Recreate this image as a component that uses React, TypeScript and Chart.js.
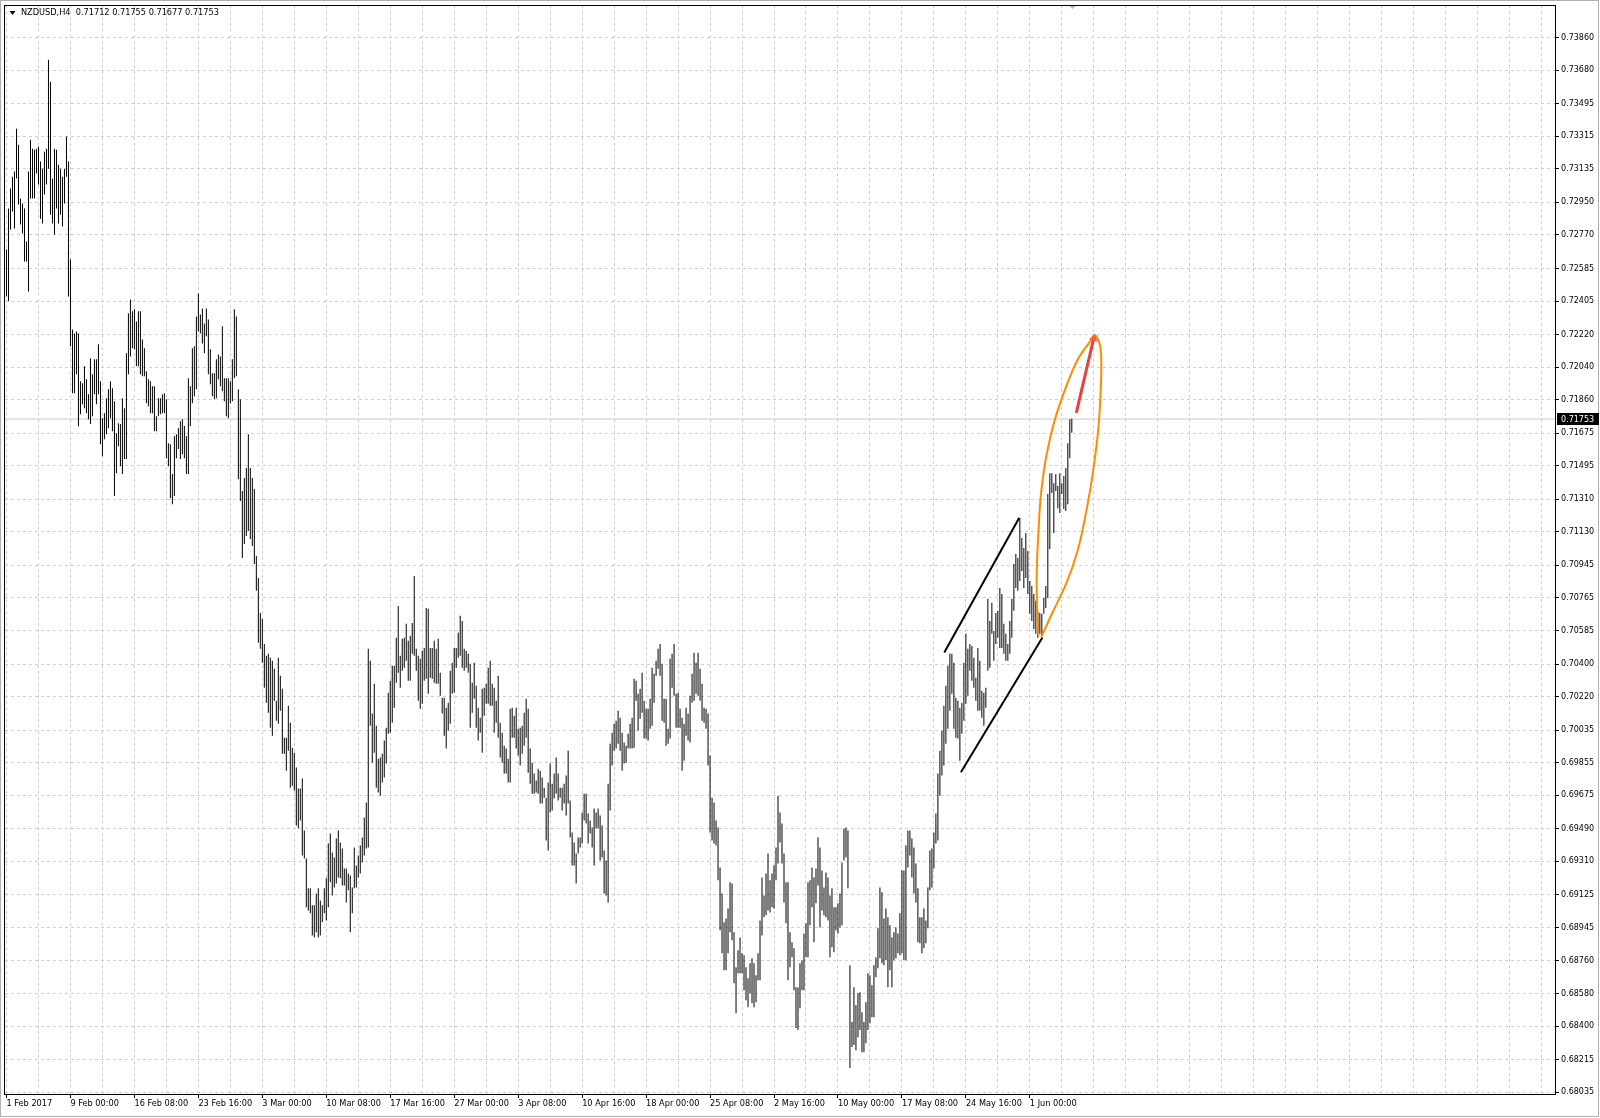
import { useEffect, useRef } from 'react';
import { Chart, registerables } from 'chart.js';

Chart.register(...registerables);

const symbolTitle = 'NZDUSD,H4';
const lastOpen = 0.71712;
const lastHigh = 0.71755;
const lastLow = 0.71677;
const lastClose = 0.71753;

const xTickLabels = [
  '1 Feb 2017', '9 Feb 00:00', '16 Feb 08:00', '23 Feb 16:00', '3 Mar 00:00', '10 Mar 08:00',
  '17 Mar 16:00', '27 Mar 00:00', '3 Apr 08:00', '10 Apr 16:00', '18 Apr 00:00', '25 Apr 08:00',
  '2 May 16:00', '10 May 00:00', '17 May 08:00', '24 May 16:00', '1 Jun 00:00',
];

const yTickValues = [
  0.73860, 0.73680, 0.73495, 0.73315, 0.73135, 0.72950, 0.72770, 0.72585, 0.72405, 0.72220,
  0.72040, 0.71860, 0.71675, 0.71495, 0.71310, 0.71130, 0.70945, 0.70765, 0.70585, 0.70400,
  0.70220, 0.70035, 0.69855, 0.69675, 0.69490, 0.69310, 0.69125, 0.68945, 0.68760, 0.68580,
  0.68400, 0.68215, 0.68035,
];

const barHighs = [
  0.72689,0.72916,0.73026,0.73092,0.73120,0.73357,0.73268,0.72971,0.72943,0.72916,
  0.72734,0.73120,0.73296,0.73246,0.73241,0.73246,0.73257,0.73175,0.73136,0.73230,
  0.73246,0.73737,0.73616,0.73081,0.73246,0.73241,0.73158,0.73136,0.73092,0.73136,
  0.73313,0.73175,0.72634,0.72248,0.72226,0.72237,0.72226,0.71962,0.71951,0.72044,
  0.71973,0.71890,0.72088,0.72000,0.72083,0.72083,0.72166,0.71962,0.71758,0.71785,
  0.71868,0.71918,0.71962,0.71923,0.71851,0.71675,0.71730,0.71725,0.71868,0.71813,
  0.72116,0.72337,0.72414,0.72348,0.72359,0.72292,0.72348,0.72348,0.72193,0.72144,
  0.72017,0.71973,0.71962,0.71934,0.71934,0.71769,0.71868,0.71868,0.71890,0.71895,
  0.71862,0.71620,0.71614,0.71449,0.71658,0.71669,0.71702,0.71741,0.71752,0.71714,
  0.71658,0.71978,0.71934,0.72144,0.72155,0.72320,0.72447,0.72331,0.72364,0.72281,
  0.72364,0.72303,0.72138,0.72006,0.72006,0.72083,0.72110,0.72099,0.72265,0.71978,
  0.71978,0.71978,0.71962,0.72083,0.72359,0.72320,0.71918,0.71862,0.71355,0.71427,
  0.71482,0.71669,0.71482,0.71427,0.71366,0.70997,0.70875,0.70682,0.70649,0.70511,
  0.70445,0.70456,0.70434,0.70418,0.70374,0.70197,0.70434,0.70335,0.70263,0.69993,
  0.69993,0.70170,0.70076,0.69938,0.69910,0.69828,0.69712,0.69712,0.69767,0.69480,
  0.69326,0.69161,0.69161,0.69067,0.69067,0.69133,0.69161,0.69094,0.69067,0.69161,
  0.69216,0.69409,0.69464,0.69359,0.69331,0.69436,0.69480,0.69414,0.69381,0.69271,
  0.69271,0.69243,0.69232,0.69166,0.69387,0.69287,0.69342,0.69398,0.69442,0.69552,
  0.69635,0.70484,0.70418,0.70126,0.70291,0.70059,0.69877,0.69883,0.69905,0.69977,
  0.70048,0.70241,0.70307,0.70390,0.70390,0.70545,0.70721,0.70445,0.70539,0.70545,
  0.70622,0.70528,0.70556,0.70627,0.70886,0.70484,0.70445,0.70429,0.70473,0.70489,
  0.70710,0.70705,0.70489,0.70489,0.70528,0.70484,0.70539,0.70352,0.70214,0.70214,
  0.70159,0.70186,0.70363,0.70407,0.70489,0.70489,0.70572,0.70666,0.70638,0.70484,
  0.70473,0.70456,0.70401,0.70296,0.70407,0.70280,0.70159,0.70103,0.70263,0.70269,
  0.70291,0.70379,0.70418,0.70291,0.70269,0.70197,0.70335,0.70076,0.70021,0.69949,
  0.69933,0.69877,0.70153,0.70159,0.70114,0.70159,0.70043,0.70048,0.70059,0.70131,
  0.70208,0.70153,0.69933,0.69855,0.69795,0.69756,0.69822,0.69811,0.69773,0.69717,
  0.69662,0.69745,0.69850,0.69739,0.69795,0.69883,0.69795,0.69717,0.69717,0.69739,
  0.69784,0.69921,0.69646,0.69469,0.69414,0.69354,0.69442,0.69442,0.69580,0.69684,
  0.69684,0.69574,0.69535,0.69497,0.69602,0.69580,0.69602,0.69563,0.69508,0.69370,
  0.69315,0.69739,0.69960,0.70021,0.70070,0.70087,0.70142,0.70103,0.70021,0.69966,
  0.69949,0.70015,0.70070,0.70103,0.70319,0.70307,0.70236,0.70263,0.70352,0.70197,
  0.70153,0.70153,0.70208,0.70379,0.70346,0.70418,0.70484,0.70511,0.70401,0.70208,
  0.70208,0.70043,0.70429,0.70456,0.70511,0.70236,0.70241,0.70153,0.70103,0.70070,
  0.70159,0.70126,0.70225,0.70346,0.70462,0.70407,0.70462,0.70374,0.70291,0.70159,
  0.70153,0.70126,0.69894,0.69662,0.69635,0.69535,0.69497,0.69276,0.69133,0.68973,
  0.68995,0.69050,0.69194,0.69188,0.68918,0.68725,0.68819,0.68890,0.68802,0.68791,
  0.68725,0.68664,0.68747,0.68775,0.68747,0.68681,0.68802,0.68984,0.69221,0.69122,
  0.69243,0.69354,0.69205,0.69243,0.69287,0.69387,0.69673,0.69580,0.69519,0.69354,
  0.69194,0.69194,0.68918,0.68863,0.68830,0.68615,0.68615,0.68747,0.68764,0.68912,
  0.68968,0.69194,0.69205,0.69276,0.69221,0.69271,0.69442,0.69387,0.69260,0.69166,
  0.69249,0.69221,0.69122,0.69161,0.69056,0.69056,0.69078,0.69133,0.69304,0.69491,
  0.69497,0.69480,0.68736,0.68422,0.68615,0.68515,0.68582,0.68587,0.68477,0.68422,
  0.68532,0.68692,0.68681,0.68626,0.68736,0.68780,0.68940,0.69166,0.69139,0.68995,
  0.69050,0.69001,0.68957,0.68890,0.68918,0.68945,0.68912,0.69023,0.69260,0.69260,
  0.69398,0.69480,0.69480,0.69436,0.69387,0.69298,0.69161,0.69001,0.69001,0.69050,
  0.68984,0.69166,0.69370,0.69381,0.69469,0.69574,0.69795,0.69921,0.70032,0.70170,
  0.70280,0.70390,0.70456,0.70456,0.70407,0.70214,0.70197,0.70159,0.70186,0.70407,
  0.70567,0.70484,0.70511,0.70500,0.70434,0.70324,0.70489,0.70418,0.70252,0.70241,
  0.70269,0.70760,0.70638,0.70738,0.70583,0.70682,0.70694,0.70820,0.70787,0.70622,
  0.70567,0.70511,0.70638,0.70760,0.70953,0.71008,0.70986,0.71206,0.71096,0.71041,
  0.71124,0.71024,0.70859,0.70831,0.70787,0.70749,0.70694,0.70682,0.70677,0.70765,
  0.70831,0.71339,0.71454,0.71454,0.71399,0.71449,0.71383,0.71454,0.71399,0.71438,
  0.71482,0.71620,0.71752,0.71755,
];

const barLows = [
  0.72430,0.72403,0.72800,0.72899,0.72805,0.73081,0.72938,0.72827,0.72778,0.72623,
  0.72623,0.72458,0.72971,0.72971,0.72971,0.73109,0.73048,0.72860,0.72833,0.72993,
  0.73048,0.73136,0.72882,0.72833,0.72772,0.72916,0.72833,0.72882,0.72816,0.72943,
  0.73092,0.72430,0.72155,0.71895,0.71895,0.72000,0.71713,0.71780,0.71835,0.71813,
  0.71785,0.71752,0.71725,0.71769,0.71890,0.71835,0.71890,0.71614,0.71548,0.71642,
  0.71669,0.71702,0.71758,0.71686,0.71328,0.71454,0.71603,0.71493,0.71449,0.71532,
  0.71532,0.72000,0.72099,0.72144,0.72138,0.72044,0.72044,0.72000,0.71989,0.71989,
  0.71840,0.71824,0.71785,0.71785,0.71686,0.71686,0.71769,0.71780,0.71785,0.71785,
  0.71537,0.71493,0.71316,0.71283,0.71328,0.71537,0.71587,0.71532,0.71559,0.71537,
  0.71449,0.71449,0.71714,0.71840,0.71879,0.71918,0.72237,0.72226,0.72171,0.72116,
  0.72210,0.72000,0.71945,0.71879,0.71862,0.71868,0.71973,0.71934,0.71906,0.71851,
  0.71769,0.71758,0.71840,0.71851,0.71978,0.71989,0.71421,0.71300,0.70986,0.71063,
  0.71107,0.71135,0.71090,0.71052,0.70953,0.70804,0.70517,0.70484,0.70407,0.70269,
  0.70186,0.70131,0.70048,0.70004,0.70197,0.70087,0.70070,0.70142,0.69905,0.69905,
  0.69811,0.69921,0.69717,0.69728,0.69701,0.69508,0.69491,0.69535,0.69342,0.69326,
  0.69056,0.69039,0.69023,0.68901,0.68890,0.68918,0.68890,0.68901,0.68973,0.69023,
  0.68984,0.69056,0.69194,0.69122,0.69166,0.69188,0.69221,0.69216,0.69177,0.69177,
  0.69083,0.69150,0.68918,0.69023,0.69161,0.69166,0.69221,0.69243,0.69304,0.69342,
  0.69381,0.69387,0.70059,0.69855,0.69910,0.69717,0.69690,0.69673,0.69745,0.69773,
  0.69850,0.70015,0.70021,0.70076,0.70159,0.70296,0.70352,0.70269,0.70363,0.70379,
  0.70418,0.70307,0.70307,0.70456,0.70445,0.70363,0.70197,0.70153,0.70181,0.70307,
  0.70319,0.70236,0.70324,0.70319,0.70296,0.70291,0.70291,0.70225,0.70126,0.70004,
  0.69933,0.70032,0.70070,0.70236,0.70241,0.70379,0.70434,0.70445,0.70379,0.70363,
  0.70379,0.70352,0.70048,0.70131,0.70208,0.70048,0.69977,0.70021,0.69910,0.70114,
  0.70181,0.70181,0.70170,0.70170,0.70021,0.70076,0.69993,0.69883,0.69855,0.69795,
  0.69795,0.69745,0.69745,0.69993,0.69993,0.69933,0.69894,0.69839,0.69905,0.69949,
  0.69993,0.69800,0.69739,0.69684,0.69684,0.69690,0.69684,0.69629,0.69629,0.69662,
  0.69425,0.69370,0.69580,0.69591,0.69657,0.69684,0.69646,0.69662,0.69591,0.69629,
  0.69563,0.69629,0.69442,0.69287,0.69287,0.69188,0.69354,0.69387,0.69409,0.69535,
  0.69519,0.69409,0.69464,0.69387,0.69287,0.69491,0.69491,0.69315,0.69331,0.69133,
  0.69122,0.69083,0.69591,0.69839,0.69921,0.69933,0.69960,0.69921,0.69811,0.69850,
  0.69855,0.69933,0.69933,0.69933,0.69938,0.70197,0.70032,0.70098,0.70131,0.69988,
  0.69988,0.69977,0.70043,0.70059,0.70186,0.70335,0.70374,0.70335,0.70087,0.70076,
  0.69949,0.69960,0.69988,0.70269,0.70225,0.70048,0.70048,0.70048,0.69811,0.69866,
  0.70004,0.69977,0.69966,0.70186,0.70197,0.70236,0.70225,0.70197,0.70087,0.70076,
  0.70043,0.69839,0.69469,0.69425,0.69409,0.69398,0.69205,0.68929,0.68802,0.68708,
  0.68708,0.68802,0.68918,0.68874,0.68637,0.68471,0.68692,0.68692,0.68692,0.68598,
  0.68543,0.68504,0.68582,0.68526,0.68504,0.68532,0.68653,0.68653,0.68901,0.69001,
  0.69012,0.69039,0.69028,0.69056,0.69050,0.69205,0.69298,0.69414,0.69298,0.69083,
  0.68968,0.68653,0.68725,0.68780,0.68598,0.68389,0.68378,0.68499,0.68598,0.68598,
  0.68780,0.68780,0.68957,0.69056,0.68863,0.69078,0.69177,0.68945,0.69039,0.69012,
  0.69001,0.68984,0.68780,0.68835,0.68808,0.68929,0.68912,0.68945,0.68957,0.69315,
  0.69331,0.69161,0.68168,0.68284,0.68295,0.68267,0.68339,0.68378,0.68256,0.68256,
  0.68306,0.68378,0.68416,0.68449,0.68449,0.68670,0.68719,0.68775,0.68747,0.68736,
  0.68764,0.68615,0.68708,0.68615,0.68764,0.68775,0.68802,0.68791,0.68802,0.68764,
  0.68764,0.69276,0.69342,0.69221,0.69133,0.69083,0.68863,0.68857,0.68802,0.68830,
  0.68857,0.68940,0.69150,0.69166,0.69271,0.69409,0.69425,0.69673,0.69784,0.69839,
  0.69960,0.70043,0.70142,0.70236,0.70043,0.69993,0.69988,0.69866,0.70015,0.70087,
  0.70181,0.70225,0.70363,0.70307,0.70269,0.70197,0.70142,0.70142,0.70103,0.70059,
  0.70159,0.70363,0.70379,0.70567,0.70418,0.70511,0.70545,0.70489,0.70489,0.70456,
  0.70418,0.70418,0.70456,0.70545,0.70694,0.70820,0.70804,0.70859,0.70914,0.70820,
  0.70875,0.70787,0.70677,0.70638,0.70594,0.70567,0.70545,0.70567,0.70556,0.70677,
  0.70710,0.70765,0.71035,0.71344,0.71124,0.71355,0.71261,0.71234,0.71339,0.71256,
  0.71245,0.71283,0.71537,0.71677,
];

// drawn objects, in (bar index, price)
const channelUpperX = [469.2, 506.7];
const channelUpperY = [0.70464, 0.71208];
const channelLowerX = [477.5, 518.3];
const channelLowerY = [0.69802, 0.70546];
const arcLeftX = [516.25, 515.5, 515.5, 516.25, 517.25, 519.0, 520.75, 524.75, 530.6, 536.25, 542.25, 545.25];
const arcLeftY = [0.70561, 0.70749, 0.70931, 0.71118, 0.71300, 0.71465, 0.71576, 0.71758, 0.71945, 0.72088, 0.72182, 0.72215];
const arcRightX = [517.75, 523.25, 530.75, 536.0, 539.5, 542.25, 544.5, 546.25, 547.25, 547.75, 547.25, 545.25];
const arcRightY = [0.70550, 0.70682, 0.70859, 0.71030, 0.71201, 0.71366, 0.71532, 0.71697, 0.71862, 0.72033, 0.72154, 0.72215];
const arrowX = [535.25, 544.0];
const arrowY = [0.71787, 0.72200];

const X_MIN = -0.75;
const X_MAX = 774.75;
const Y_MIN = 0.68025;
const Y_MAX = 0.74040;
const FONT = '"DejaVu Sans", sans-serif';
const GRID = '#d0d0d0';

const pts = (xs: number[], ys: number[]) => xs.map((x, i) => ({ x, y: ys[i] }));

const decorPlugin = {
  id: 'decor',
  beforeDraw(chart: any) {
    const { ctx } = chart;
    ctx.save();
    ctx.fillStyle = '#ffffff';
    ctx.fillRect(0, 0, chart.width, chart.height);
    ctx.restore();
  },
  afterDraw(chart: any) {
    const { ctx, chartArea: a, scales } = chart;
    ctx.save();
    // outer window frame
    ctx.strokeStyle = '#b0b0b0';
    ctx.lineWidth = 1;
    ctx.strokeRect(0.5, 0.5, chart.width - 2, chart.height - 2);
    // plot frame
    ctx.strokeStyle = '#000000';
    ctx.strokeRect(a.left - 0.5, a.top + 0.5, a.right - a.left + 1, a.bottom - a.top);
    // chart shift marker
    const sx = Math.round(scales.x.getPixelForValue(barHighs.length - 1)) + 0.5;
    ctx.fillStyle = '#b8b8b8';
    ctx.beginPath();
    ctx.moveTo(sx - 3, a.top + 1);
    ctx.lineTo(sx + 3, a.top + 1);
    ctx.lineTo(sx, a.top + 4);
    ctx.closePath();
    ctx.fill();
    // current price label
    const py = Math.round(scales.y.getPixelForValue(lastClose));
    ctx.fillStyle = '#000000';
    ctx.fillRect(a.right + 2, py - 6, 42, 12);
    ctx.fillStyle = '#ffffff';
    ctx.font = '8px ' + FONT;
    ctx.textBaseline = 'middle';
    ctx.textAlign = 'left';
    ctx.fillText(lastClose.toFixed(5), a.right + 6, py + 0.5);
    // header
    ctx.fillStyle = '#000000';
    ctx.beginPath();
    ctx.moveTo(9.5, 11);
    ctx.lineTo(15.5, 11);
    ctx.lineTo(12.5, 15);
    ctx.closePath();
    ctx.fill();
    ctx.font = '8.2px ' + FONT;
    ctx.fillText(
      symbolTitle + '  ' + [lastOpen, lastHigh, lastLow, lastClose].map((v) => v.toFixed(5)).join(' '),
      21, 12.5,
    );
    ctx.restore();
  },
};

export default function App() {
  const ref = useRef<HTMLCanvasElement>(null);
  useEffect(() => {
    const canvas = ref.current;
    if (!canvas) return;
    const barData = barHighs.map((h, i) => ({ x: i, y: [barLows[i], h] }));
    const xGrid: number[] = [];
    for (let v = 0; v <= X_MAX; v += 16) xGrid.push(v);
    const lineBase = { type: 'line', pointRadius: 0, fill: false, order: 1 };
    const chart = new Chart(canvas, {
      type: 'bar',
      data: {
        datasets: [
          { ...lineBase, data: pts(arrowX, arrowY), borderColor: '#e8413c', borderWidth: 3, tension: 0,
            pointRadius: [0, 5], pointStyle: 'triangle', rotation: 13, pointBackgroundColor: '#f0603a', pointBorderWidth: 0 } as any,
          { ...lineBase, data: pts(arcLeftX, arcLeftY), borderColor: '#ff8c00', borderWidth: 2, tension: 0.4 } as any,
          { ...lineBase, data: pts(arcRightX, arcRightY), borderColor: '#ff8c00', borderWidth: 2, tension: 0.4 } as any,
          { ...lineBase, data: pts(channelUpperX, channelUpperY), borderColor: '#000000', borderWidth: 2, tension: 0 } as any,
          { ...lineBase, data: pts(channelLowerX, channelLowerY), borderColor: '#000000', borderWidth: 2, tension: 0 } as any,
          { ...lineBase, data: [{ x: X_MIN, y: lastClose }, { x: X_MAX, y: lastClose }], borderColor: '#c8c8c8', borderWidth: 1, order: 20 } as any,
          {
            type: 'bar', data: barData as any, backgroundColor: '#000000', borderWidth: 0,
            barThickness: 1, inflateAmount: 0, order: 10,
          } as any,
        ],
      },
      options: {
        responsive: false,
        animation: false,
        devicePixelRatio: 1,
        events: [],
        layout: { padding: { left: 4, top: 3, right: 0, bottom: 0 } },
        plugins: { legend: { display: false }, tooltip: { enabled: false }, title: { display: false } },
        scales: {
          x: {
            type: 'linear',
            position: 'bottom',
            offset: false,
            min: X_MIN,
            max: X_MAX,
            grid: {
              offset: false,
              color: GRID, lineWidth: 1, drawTicks: true, tickLength: 4, tickBorderDash: [],
              tickColor: (c: any) => (c.tick && c.tick.value % 32 === 0 && c.tick.value / 32 < xTickLabels.length ? '#000000' : 'rgba(0,0,0,0)'),
            },
            border: { display: false, dash: [3, 3] },
            ticks: {
              autoSkip: false, maxRotation: 0, minRotation: 0, align: 'start', padding: 1,
              color: '#000000', font: { family: FONT, size: 8.2 },
              callback: (v: any) => {
                const n = Number(v);
                return n % 32 === 0 && n / 32 < xTickLabels.length ? xTickLabels[n / 32] : '';
              },
            },
            afterBuildTicks: (s: any) => { s.ticks = xGrid.map((v) => ({ value: v })); },
            afterFit: (s: any) => { s.height = 24; s.paddingLeft = 0; s.paddingRight = 0; },
          } as any,
          y: {
            type: 'linear',
            position: 'right',
            offset: false,
            min: Y_MIN,
            max: Y_MAX,
            grid: { color: GRID, lineWidth: 1, drawTicks: true, tickLength: 4, tickColor: '#000000', tickBorderDash: [] },
            border: { display: false, dash: [3, 3] },
            ticks: {
              autoSkip: false, padding: 2, color: '#000000', font: { family: FONT, size: 8 },
              callback: (v: any) => Number(v).toFixed(5),
            },
            afterBuildTicks: (s: any) => { s.ticks = yTickValues.map((v) => ({ value: v })); },
            afterFit: (s: any) => { s.width = 45; s.paddingTop = 0; s.paddingBottom = 0; },
          } as any,
        },
      },
      plugins: [decorPlugin],
    } as any);
    return () => chart.destroy();
  }, []);
  return (
    <div style={{ position: 'fixed', left: 0, top: 0, width: 1600, height: 1118, background: '#ffffff' }}>
      <canvas ref={ref} width={1600} height={1118} style={{ display: 'block', width: 1600, height: 1118 }} />
    </div>
  );
}
